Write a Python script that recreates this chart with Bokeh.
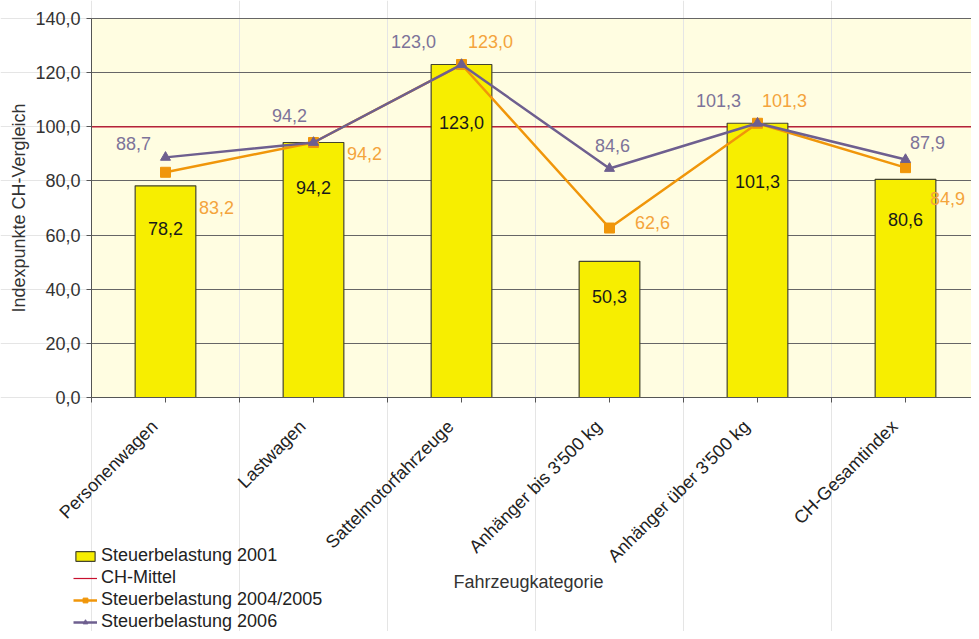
import math
from bokeh.plotting import figure
from bokeh.models import (Range1d, FixedTicker, CustomJSTickFormatter, ColumnDataSource,
                          Legend, LegendItem, LinearAxis, Grid, BoxAnnotation, Label)
from bokeh.embed import file_html
from bokeh.resources import INLINE
from bokeh.core.properties import value

# ---------------- data ----------------
categories = ["Personenwagen", "Lastwagen", "Sattelmotorfahrzeuge",
              "Anhänger bis 3'500 kg", "Anhänger über 3'500 kg", "CH-Gesamtindex"]
steuer_2001 = [78.2, 94.2, 123.0, 50.3, 101.3, 80.6]
steuer_2004_2005 = [83.2, 94.2, 123.0, 62.6, 101.3, 84.9]
steuer_2006 = [88.7, 94.2, 123.0, 84.6, 101.3, 87.9]
ch_mittel = 100.0
y_ticks = [0, 20, 40, 60, 80, 100, 120, 140]

# ---------------- layout / style ----------------
W, H = 971, 631
PLOT_L, PLOT_T, PLOT_B = 91, 18, 397      # plot area edges in screen px
CAT_PX = 148                               # width of one category in px
FONT_NAME = "Liberation Sans"
FONT = value(FONT_NAME)

# label offsets (screen px, positive = down)
off_2006_dx = [-32, -24, -48, 3, -39, 22]
off_2006_dy = [-14, -27, -23, -23, -23, -17]
off_0405_dx = [51, 51, 29, 43, 27, 42]
off_0405_dy = [35, 11, -23, -6, -23, 31]
off_2001_dy = [43, 45, 58, 35, 58, 40]


def fmt(v):
    return f"{v:.1f}".replace(".", ",")


n = len(categories)
x_pos = [i + 0.5 for i in range(n)]
y0, y1 = y_ticks[0], y_ticks[-1]
ppu = (PLOT_B - PLOT_T) / (y1 - y0)

p = figure(width=W, height=H,
           x_range=Range1d(-PLOT_L / CAT_PX, (W - PLOT_L) / CAT_PX),
           y_range=Range1d(y0 - (H - PLOT_B) / ppu, y1 + PLOT_T / ppu),
           x_axis_location=None, y_axis_location=None,
           output_backend="svg", toolbar_location=None,
           min_border=0, min_border_left=0, min_border_right=0,
           min_border_top=0, min_border_bottom=0,
           background_fill_color="white", border_fill_color="white",
           outline_line_color=None)

# plot-area background
p.add_layout(BoxAnnotation(left=0, right=n, bottom=y0, top=y1, fill_color="#FFFDE1",
                           fill_alpha=1, line_color=None, level="image"))

# axes (placed at the data origin)
yaxis = LinearAxis(fixed_location=0, bounds=(y0, y1), ticker=FixedTicker(ticks=y_ticks),
                   formatter=CustomJSTickFormatter(code="return tick.toFixed(1).replace('.', ',');"),
                   major_label_text_font=FONT_NAME, major_label_text_font_size="18px",
                   major_label_text_color="#333333", major_label_standoff=6,
                   major_tick_out=5, major_tick_in=0, minor_tick_line_color=None,
                   axis_line_color="#555555", major_tick_line_color="#555555")
p.add_layout(yaxis, "left")

xt = [i * 0.5 for i in range(2 * n + 1)]
xaxis = LinearAxis(fixed_location=y0, bounds=(0, n), ticker=FixedTicker(ticks=xt),
                   major_label_overrides={t: "" for t in xt},
                   major_tick_out=5, major_tick_in=0, minor_tick_line_color=None,
                   axis_line_color="#555555", major_tick_line_color="#555555")
p.add_layout(xaxis, "below")

p.add_layout(Grid(dimension=1, ticker=yaxis.ticker, bounds=(y0, y1), cross_bounds=(0, n),
                  grid_line_color="#666666", grid_line_width=1))

# CH-Mittel line (behind bars)
red = p.line(x=[0, n], y=[ch_mittel, ch_mittel], line_color="#C8102E", line_width=1.2)

bar_src = ColumnDataSource(dict(x=x_pos, top=steuer_2001,
                                label=[fmt(v) for v in steuer_2001], dy=off_2001_dy))
bars = p.vbar(x="x", top="top", width=0.41, bottom=y0, source=bar_src,
              fill_color="#F7EE00", line_color="#45452F", line_width=1.2)

o_src = ColumnDataSource(dict(x=x_pos, y=steuer_2004_2005,
                              label=[fmt(v) for v in steuer_2004_2005],
                              dx=off_0405_dx, dy=off_0405_dy))
o_line = p.line(x="x", y="y", source=o_src, line_color="#F0960A", line_width=2.5)
o_pts = p.scatter(x="x", y="y", source=o_src, marker="square", size=10,
                  fill_color="#F0960A", line_color="#F0960A")

v_src = ColumnDataSource(dict(x=x_pos, y=steuer_2006,
                              label=[fmt(v) for v in steuer_2006],
                              dx=off_2006_dx, dy=off_2006_dy))
v_line = p.line(x="x", y="y", source=v_src, line_color="#6E5F8F", line_width=2.5)
v_pts = p.scatter(x="x", y="y", source=v_src, marker="triangle", size=10,
                  fill_color="#6E5F8F", line_color="#6E5F8F")

# data labels
p.text(x="x", y="top", text="label", y_offset="dy", source=bar_src,
       text_align="center", text_baseline="middle", text_font=FONT,
       text_font_size="18px", text_color="#1A1A1A")
p.text(x="x", y="y", text="label", x_offset="dx", y_offset="dy", source=o_src,
       text_align="center", text_baseline="middle", text_font=FONT,
       text_font_size="18px", text_color="#F4A43C")
p.text(x="x", y="y", text="label", x_offset="dx", y_offset="dy", source=v_src,
       text_align="center", text_baseline="middle", text_font=FONT,
       text_font_size="18px", text_color="#7D7399")

# rotated category labels under the axis
cat_src = ColumnDataSource(dict(x=x_pos, y=[y0] * n, text=categories))
p.text(x="x", y="y", text="text", source=cat_src, angle=math.pi / 4,
       text_align="right", text_baseline="middle", x_offset=-11, y_offset=26,
       text_font=FONT, text_font_size="18px", text_color="#222222")

# axis titles
p.add_layout(Label(x=528, x_units="screen", y=y0, y_offset=-184, text="Fahrzeugkategorie",
                   text_align="center", text_baseline="middle", text_font=FONT_NAME,
                   text_font_size="18px", text_color="#333333"))
p.add_layout(Label(x=18, x_units="screen", y=(y0 + y1) / 2, text="Indexpunkte CH-Vergleich",
                   angle=math.pi / 2, text_align="center", text_baseline="middle",
                   text_font=FONT_NAME, text_font_size="18px", text_color="#333333"))

legend = Legend(items=[
    LegendItem(label="Steuerbelastung 2001", renderers=[bars]),
    LegendItem(label="CH-Mittel", renderers=[red]),
    LegendItem(label="Steuerbelastung 2004/2005", renderers=[o_line, o_pts]),
    LegendItem(label="Steuerbelastung 2006", renderers=[v_line, v_pts]),
], location=(73, -1), orientation="vertical", padding=0, margin=0, spacing=1,
    label_height=18, glyph_height=12, glyph_width=24, label_standoff=4,
    border_line_color=None, background_fill_alpha=0,
    label_text_font=FONT_NAME, label_text_font_size="18px",
    label_text_color="#222222")
p.add_layout(legend, "center")

open("out.html", "w").write(file_html(p, INLINE))
